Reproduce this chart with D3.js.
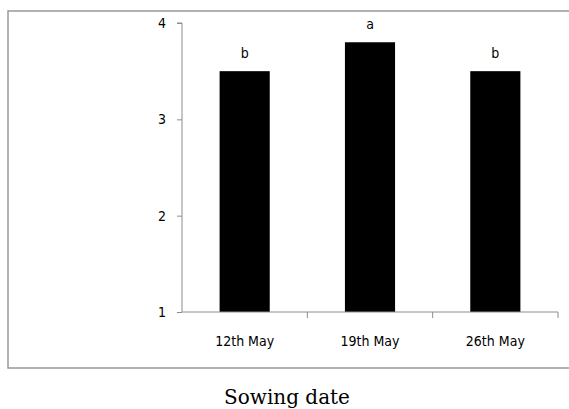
<!DOCTYPE html>
<html><head><meta charset="utf-8">
<script src="https://cdn.jsdelivr.net/npm/d3@7"></script>
<style>body{margin:0;background:#fff}svg{display:block}</style>
</head><body>
<svg id="c" width="569" height="409"></svg>
<script>
const categories = ["12th May", "19th May", "26th May"];
const values = [3.5, 3.8, 3.5];
const letters = ["b", "a", "b"];
const yTicks = [1, 2, 3, 4];
const xTitle = "Sowing date";

const svg = d3.select("#c");
const axisColor = "#8c8c8c";
const narrow = "'DejaVu Sans Condensed','Liberation Sans Narrow',Arial,sans-serif";

// outer frame
svg.append("rect").attr("x", 8).attr("y", 11).attr("width", 580).attr("height", 357)
  .attr("fill", "none").attr("stroke", "#999").attr("stroke-width", 1.5);

const x0 = 182, x1 = 558, yTop = 23, yBot = 312;
const x = d3.scaleBand().domain(categories).range([x0, x1]).paddingInner(0.6).paddingOuter(0.3);
const y = d3.scaleLinear().domain([1, 4]).range([yBot, yTop]);

// bars
svg.append("g").selectAll("rect").data(categories).join("rect")
  .attr("x", d => x(d)).attr("width", x.bandwidth())
  .attr("y", (d, i) => y(values[i])).attr("height", (d, i) => y(1) - y(values[i]))
  .attr("fill", "#000");

// letters
svg.append("g").selectAll("text").data(categories).join("text")
  .attr("x", d => x(d) + x.bandwidth() / 2)
  .attr("y", (d, i) => y(values[i]) - 13)
  .attr("text-anchor", "middle").attr("font-family", narrow).attr("font-size", 14)
  .attr("fill", "#000").text((d, i) => letters[i]);

// y axis
const yAxis = svg.append("g").attr("transform", `translate(${x0},0)`)
  .call(d3.axisLeft(y).tickValues(yTicks).tickFormat(d3.format("d")).tickSize(5).tickPadding(11));
yAxis.select(".domain").attr("stroke", axisColor).attr("d", `M-5,${yTop}H0V${yBot}`);
yAxis.selectAll(".tick line").attr("stroke", axisColor);
yAxis.selectAll(".tick text").attr("font-family", narrow).attr("font-size", 14).attr("fill", "#000");

// x axis
const xAxis = svg.append("g").attr("transform", `translate(0,${yBot})`)
  .call(d3.axisBottom(x).tickSize(0).tickPadding(24));
xAxis.select(".domain").attr("stroke", axisColor).attr("d", `M${x0},0H${x1}V6`);
xAxis.selectAll(".tick text").attr("font-family", narrow).attr("font-size", 14).attr("fill", "#000");
// category boundary ticks
const step = x.step();
svg.append("g").selectAll("line").data(categories.slice(0, -1)).join("line")
  .attr("x1", d => x(d) + x.bandwidth() + (step - x.bandwidth()) / 2)
  .attr("x2", d => x(d) + x.bandwidth() + (step - x.bandwidth()) / 2)
  .attr("y1", yBot).attr("y2", yBot + 6).attr("stroke", axisColor);

// title
svg.append("text").attr("x", 287).attr("y", 404).attr("text-anchor", "middle")
  .attr("font-family", "'DejaVu Serif',Georgia,serif").attr("font-size", 20).attr("fill", "#000")
  .text(xTitle);
</script>
</body></html>
